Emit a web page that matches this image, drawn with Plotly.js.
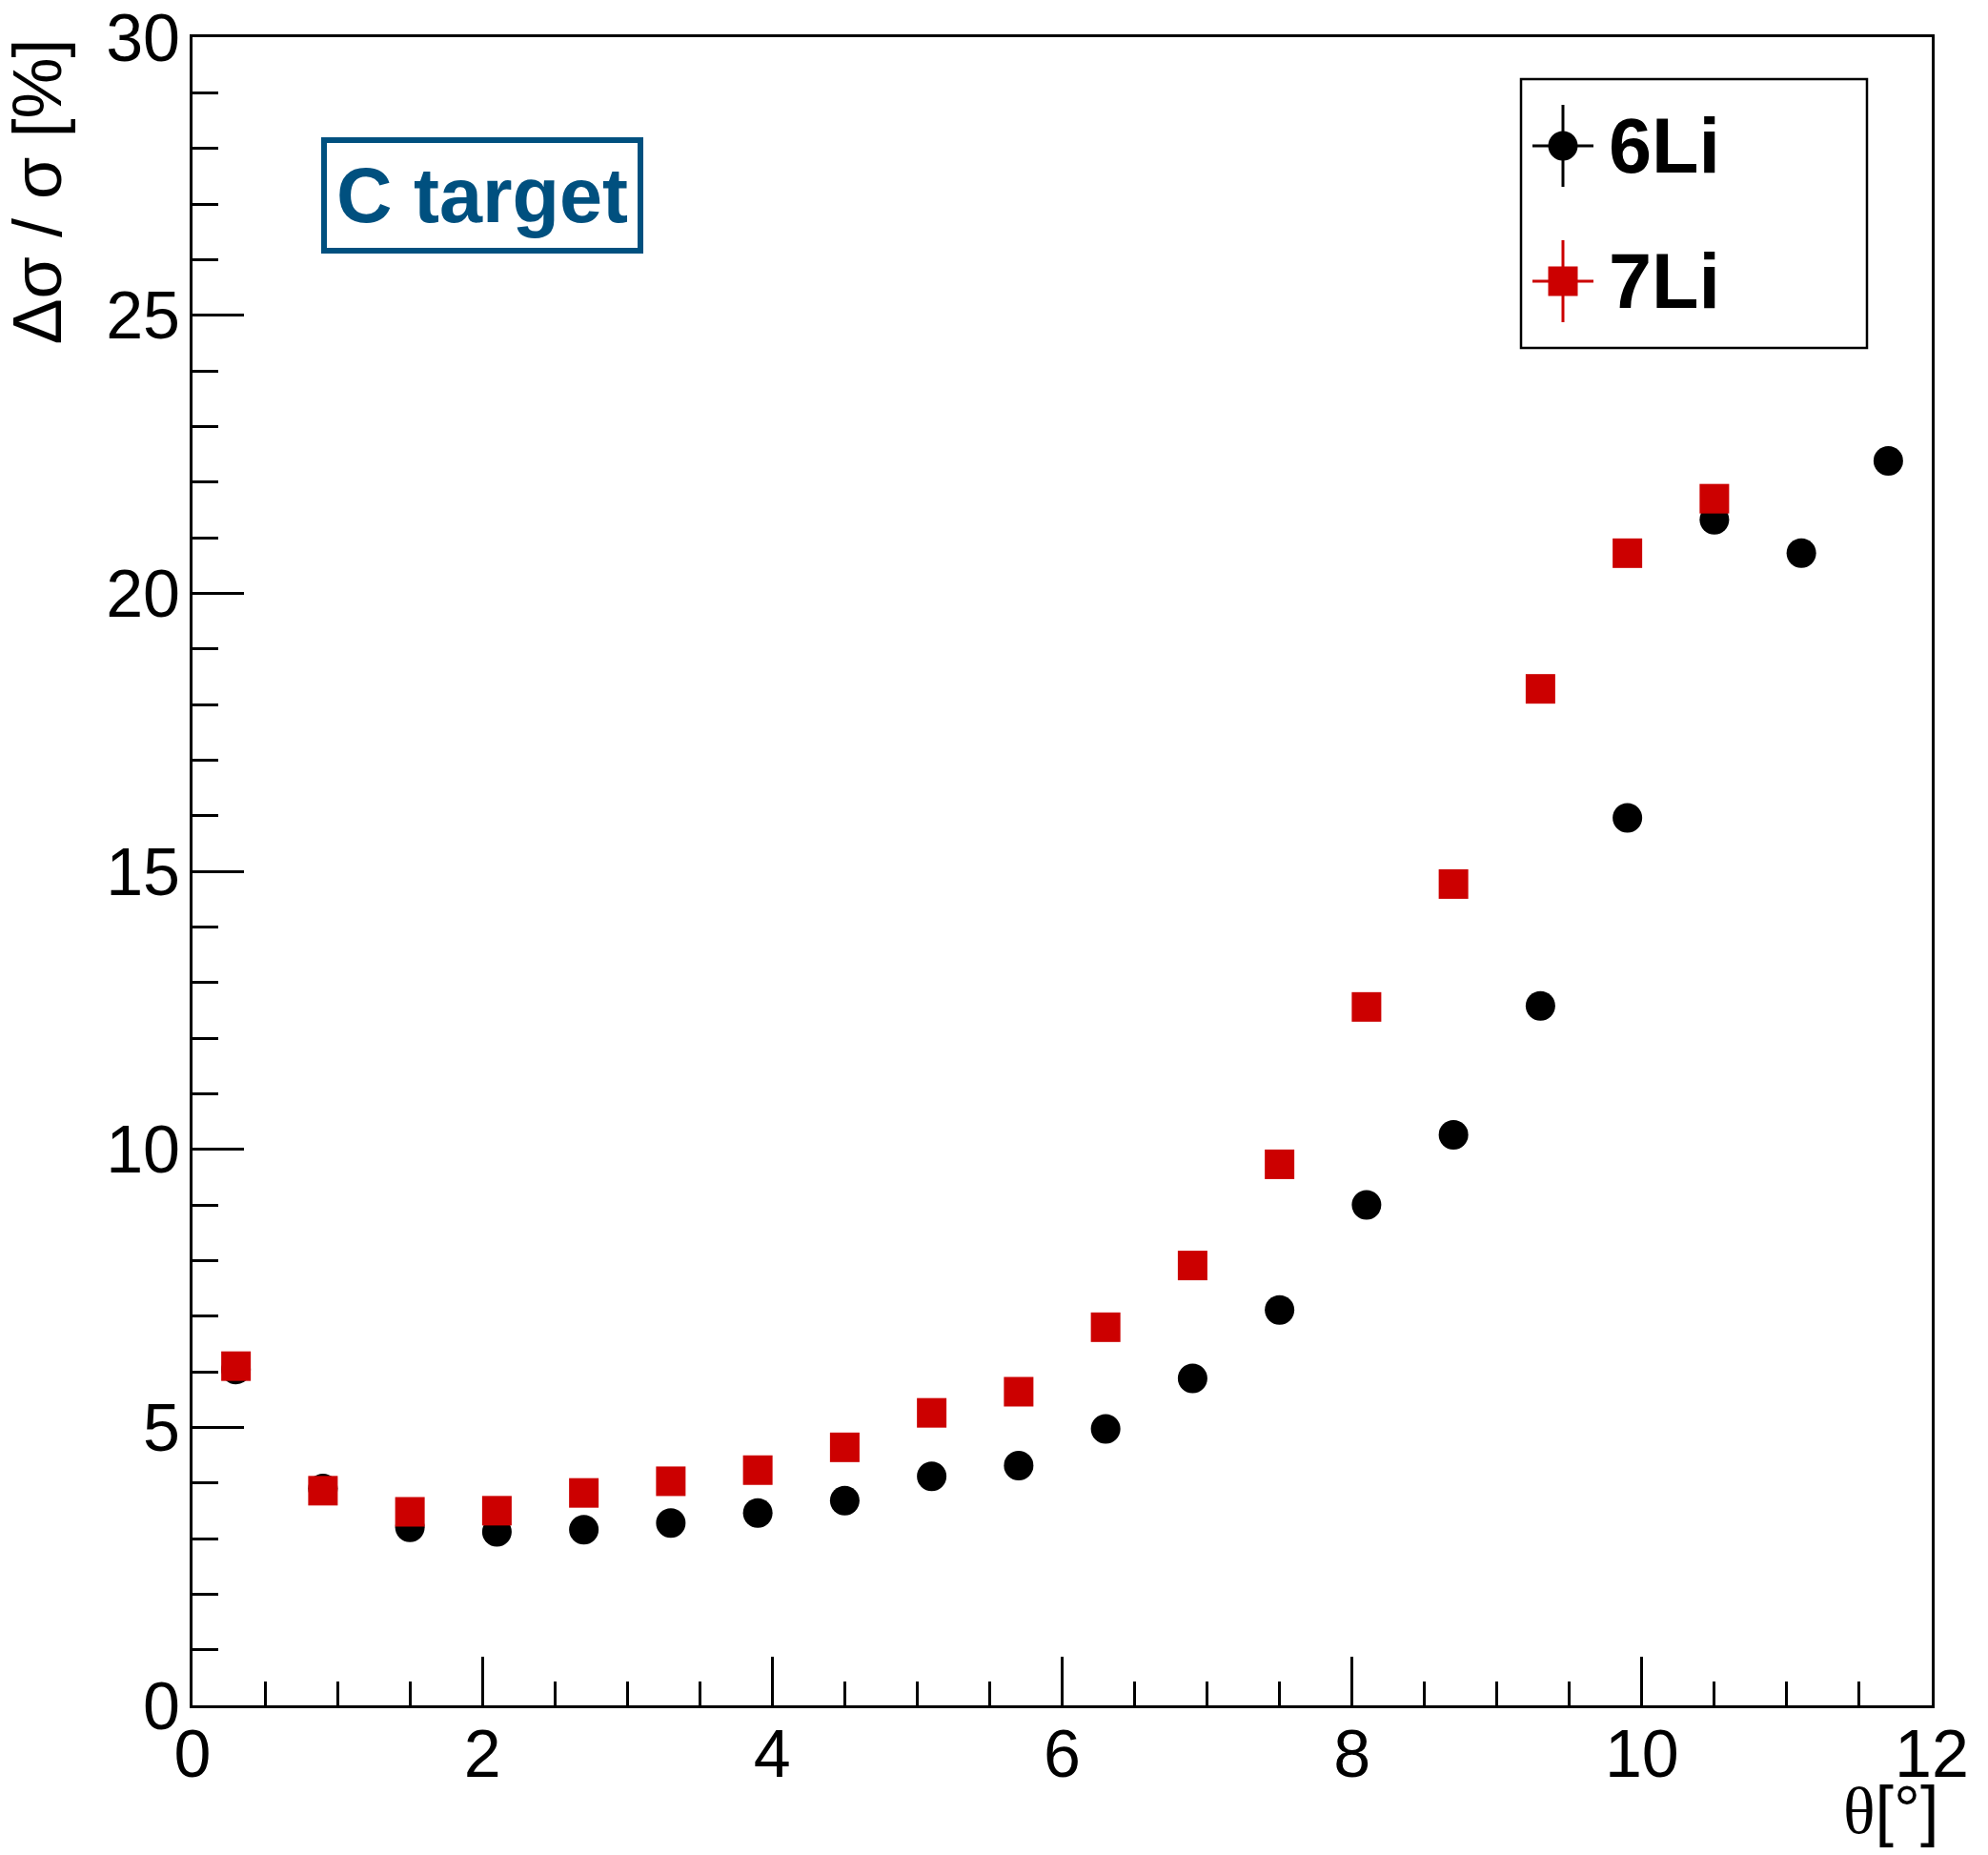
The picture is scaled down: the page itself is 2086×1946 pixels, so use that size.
<!DOCTYPE html>
<html>
<head>
<meta charset="utf-8">
<script src="https://cdn.plot.ly/plotly-3.0.1.min.js"></script>
<style>html,body{margin:0;padding:0;background:#fff;}</style>
</head>
<body>
<div id="chart" style="width:2086px;height:1946px;"></div>
<script>
// ---- data ----
const seriesNames = ["6Li", "7Li"];
const theta6Li = [0.3, 0.9, 1.5, 2.1, 2.7, 3.3, 3.9, 4.5, 5.1, 5.7, 6.3, 6.9, 7.5, 8.1, 8.7, 9.3, 9.9, 10.5, 11.1, 11.7];
const err6Li   = [6.04, 3.90, 3.20, 3.12, 3.16, 3.28, 3.46, 3.68, 4.12, 4.31, 4.97, 5.88, 7.11, 9.00, 10.26, 12.58, 15.96, 21.32, 20.72, 22.38];
const theta7Li = [0.3, 0.9, 1.5, 2.1, 2.7, 3.3, 3.9, 4.5, 5.1, 5.7, 6.3, 6.9, 7.5, 8.1, 8.7, 9.3, 9.9, 10.5];
const err7Li   = [6.10, 3.86, 3.48, 3.50, 3.82, 4.03, 4.23, 4.64, 5.26, 5.64, 6.80, 7.91, 9.73, 12.56, 14.77, 18.28, 20.72, 21.70];
const xTicks = [0, 2, 4, 6, 8, 10, 12];
const yTicks = [0, 5, 10, 15, 20, 25, 30];
const colors = ["#000000", "#cc0000"];
const symbols = ["circle", "square"];
const targetLabel = "C target";

const W = 2086, H = 1946;
const ml = 202, mr = 59, mt = 39, mb = 157;
const pw = W - ml - mr, ph = H - mt - mb;
const px = v => (v - ml) / pw;          // pixel -> paper x
const py = v => (H - mb - v) / ph;      // pixel -> paper y

const traces = [
  {x: theta6Li, y: err6Li, name: seriesNames[0], type: "scatter", mode: "markers",
   marker: {symbol: symbols[0], size: 31, color: colors[0]}, showlegend: false, hoverinfo: "x+y"},
  {x: theta7Li, y: err7Li, name: seriesNames[1], type: "scatter", mode: "markers",
   marker: {symbol: symbols[1], size: 31, color: colors[1]}, showlegend: false, hoverinfo: "x+y"}
];

const font = "Liberation Sans, Arial, Helvetica, sans-serif";

// custom legend (ROOT style with error-bar crosses)
const legX = px(1640);
const legY = [py(153), py(295)];
const shapes = [
  // C target box
  {type: "rect", xref: "paper", yref: "paper", x0: px(340), x1: px(672), y0: py(263), y1: py(147),
   line: {color: "#00507f", width: 6}, fillcolor: "rgba(0,0,0,0)"},
  // legend box
  {type: "rect", xref: "paper", yref: "paper", x0: px(1596), x1: px(1959), y0: py(365), y1: py(83),
   line: {color: "#000000", width: 2.5}, fillcolor: "#ffffff"}
];
const annotations = [
  {xref: "paper", yref: "paper", x: px(506), y: py(205), text: "<b>" + targetLabel + "</b>",
   showarrow: false, xanchor: "center", yanchor: "middle", font: {family: font, size: 81, color: "#00507f"}},
  {xref: "paper", yref: "paper", x: px(-4), y: 1.0, text: "Δσ / σ [%]", textangle: -90,
   showarrow: false, xanchor: "left", yanchor: "top", font: {family: font, size: 72, color: "#000"}},
  {xref: "paper", yref: "paper", x: px(2036), y: py(1858),
   text: '<span style="font-family:Liberation Serif">θ</span>[°]',
   showarrow: false, xanchor: "right", yanchor: "top", font: {family: font, size: 70, color: "#000"}}
];
seriesNames.forEach((nm, i) => {
  const yc = legY[i];
  shapes.push({type: "line", xref: "paper", yref: "paper", xsizemode: "pixel", xanchor: legX,
    x0: -32, x1: 32, y0: yc, y1: yc, line: {color: colors[i], width: 3}});
  shapes.push({type: "line", xref: "paper", yref: "paper", ysizemode: "pixel", yanchor: yc,
    x0: legX, x1: legX, y0: -43, y1: 43, line: {color: colors[i], width: 3}});
  shapes.push({type: symbols[i] === "circle" ? "circle" : "rect", xref: "paper", yref: "paper",
    xsizemode: "pixel", ysizemode: "pixel", xanchor: legX, yanchor: yc,
    x0: -15.5, x1: 15.5, y0: -15.5, y1: 15.5, fillcolor: colors[i], line: {width: 0}});
  annotations.push({xref: "paper", yref: "paper", x: px(1686), y: yc, text: "<b>" + nm + "</b>",
    showarrow: false, xanchor: "left", yanchor: "middle", font: {family: font, size: 81, color: "#000"}});
});

const axisCommon = {
  showgrid: false, zeroline: false, showline: true, linecolor: "#000", linewidth: 3, mirror: true,
  ticks: "inside", tickcolor: "#000", tickwidth: 3,
  tickfont: {family: font, size: 70, color: "#000"}
};

const layout = {
  width: W, height: H, autosize: false,
  margin: {l: ml, r: mr, t: mt, b: mb, pad: 0},
  paper_bgcolor: "#fff", plot_bgcolor: "#fff",
  showlegend: false,
  font: {family: font, color: "#000"},
  xaxis: Object.assign({}, axisCommon, {
    range: [0, 12], tickmode: "array", tickvals: xTicks, ticktext: xTicks.map(String), ticklen: 51,
    minor: {ticks: "inside", dtick: 0.5, tick0: 0, ticklen: 25, tickwidth: 3, tickcolor: "#000"},
    ticklabelstandoff: -12
  }),
  yaxis: Object.assign({}, axisCommon, {
    range: [0, 30], tickmode: "array", tickvals: yTicks, ticktext: yTicks.map(String), ticklen: 54,
    minor: {ticks: "inside", dtick: 1, tick0: 0, ticklen: 27, tickwidth: 3, tickcolor: "#000"},
    ticklabelstandoff: -4
  }),
  shapes: shapes,
  annotations: annotations
};

Plotly.newPlot("chart", traces, layout, {displayModeBar: false, staticPlot: true});
</script>
</body>
</html>
